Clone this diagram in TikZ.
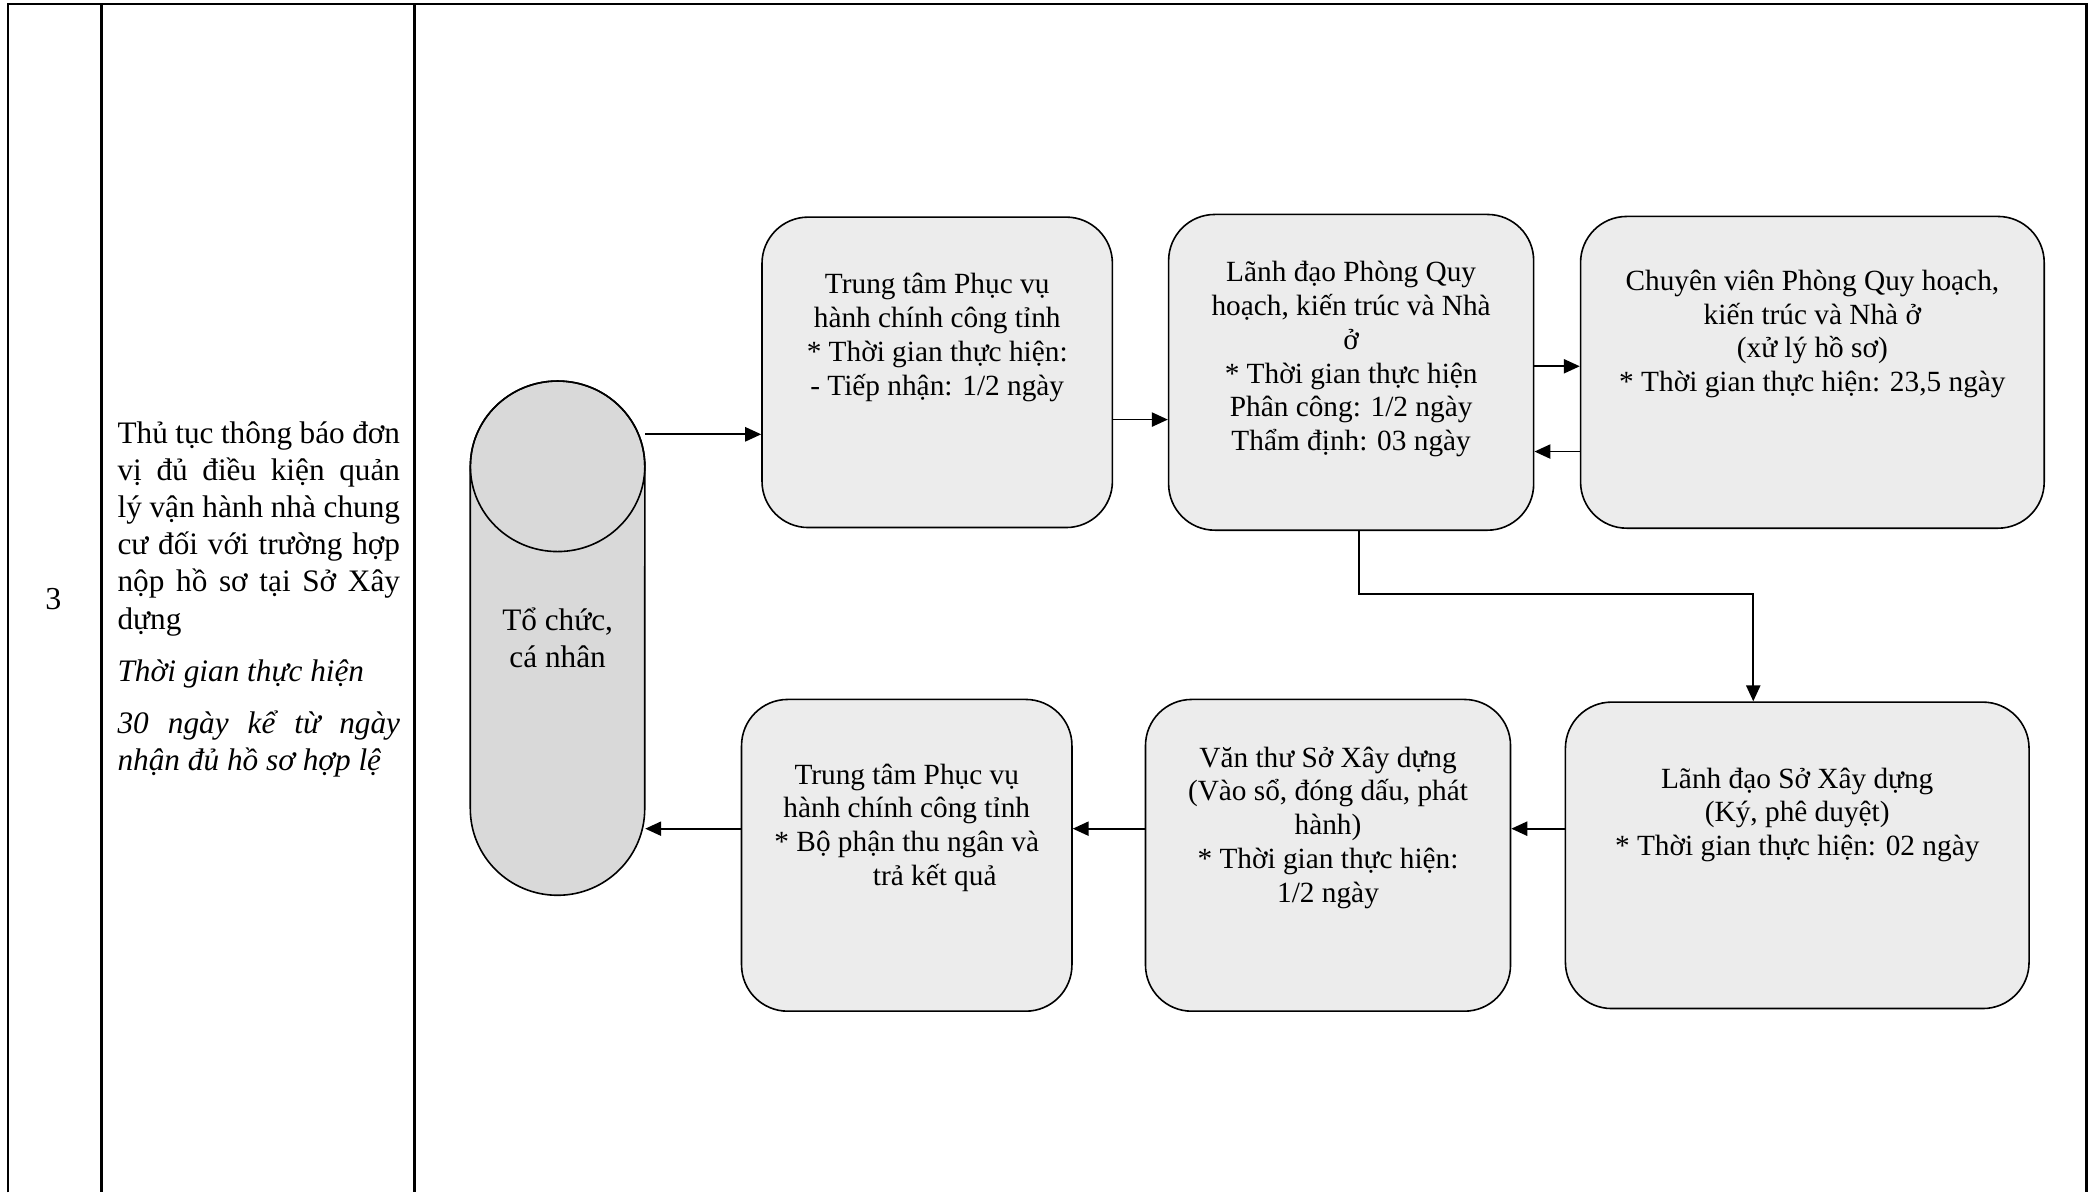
\documentclass[tikz,border=0pt]{standalone}
\usepackage{fontspec}
\setmainfont{Liberation Serif}
\usetikzlibrary{positioning, arrows.meta, shapes.geometric}

\begin{document}
\begin{tikzpicture}[x=1pt, y=1pt, node distance=30pt,
    every node/.style={font=\fontsize{16.5}{19}\selectfont, inner sep=0pt},
    stage/.style={draw, rectangle, rounded corners=26pt, fill=gray!15, line width=0.9pt},
    stagetext/.style={align=center},
    arr/.style={-{Triangle[length=9pt, width=8pt]}, line width=1pt}]
    \useasboundingbox (0,0) rectangle (1176,-671.25);
    % Table
    \draw[line width=1.5pt] (4.5,-671.25) -- (4.5,-2.25) -- (1174.5,-2.25) -- (1174.5,-671.25);
    \draw[line width=1.5pt] (57,-2.25) -- (57,-671.25);
    \draw[line width=1.5pt] (233.25,-2.25) -- (233.25,-671.25);
    \node (stt) at (30,-337.5) {\fontsize{18}{21}\selectfont 3};
    \node[anchor=west, text width=159pt, align=justify, font=\fontsize{17.6}{20.85}\selectfont] (procname) at (66,-337.5) {Thủ tục thông báo đơn\linebreak vị đủ điều kiện quản\linebreak lý vận hành nhà chung\linebreak cư đối với trường hợp\linebreak nộp hồ sơ tại Sở Xây\linebreak dựng\\[8.5pt]
      \textit{Thời gian thực hiện}\\[8.5pt]
      \textit{30 ngày kể từ ngày\linebreak nhận đủ hồ sơ hợp lệ}};
    % Components
    \draw[fill=gray!30, line width=0.9pt] (264.75,-262.5) -- (264.75,-455.25)
      arc[start angle=180, end angle=360, x radius=49.1, y radius=48.75] -- (363,-262.5)
      arc[start angle=0, end angle=180, x radius=49.1, y radius=48] -- cycle;
    \draw[line width=0.9pt] (313.9,-262.5) ellipse [x radius=49.1, y radius=48];
    \node[minimum width=98.25pt, minimum height=289.5pt, align=center, font=\fontsize{17.6}{21}\selectfont] (client) at (313.9,-359.25) {Tổ chức,\\cá nhân};
    \node[stage, minimum width=197.25pt, minimum height=174.75pt] (center) at (527.6,-209.6) {};
    \node[stage, right=30.75pt of center, minimum width=205.5pt, minimum height=177.75pt] (deptlead) {};
    \node[stage, right=25.5pt of deptlead, minimum width=261pt, minimum height=175.5pt] (officer) {};
    \node[stage, minimum width=261pt, minimum height=172.5pt] (director) at (1011.75,-481.5) {};
    \node[stage, left=30pt of director, minimum width=205.5pt, minimum height=175.5pt] (clerk) {};
    \node[stage, left=40.5pt of clerk, minimum width=186pt, minimum height=175.5pt] (result) {};
    % Texts
    \node[stagetext, below=32pt of center.north] (centertext) {Trung tâm Phục vụ\\hành chính công tỉnh\\* Thời gian thực hiện:\\- Tiếp nhận: 1/2 ngày};
    \node[stagetext, below=26.7pt of deptlead.north] (deptleadtext) {Lãnh đạo Phòng Quy\\hoạch, kiến trúc và Nhà\\ở\\* Thời gian thực hiện\\Phân công: 1/2 ngày\\Thẩm định: 03 ngày};
    \node[stagetext, below=30.4pt of officer.north] (officertext) {Chuyên viên Phòng Quy hoạch,\\kiến trúc và Nhà ở\\(xử lý hồ sơ)\\* Thời gian thực hiện: 23,5 ngày};
    \node[stagetext, below=37.2pt of director.north] (directortext) {Lãnh đạo Sở Xây dựng\\(Ký, phê duyệt)\\* Thời gian thực hiện: 02 ngày};
    \node[stagetext, below=26.8pt of clerk.north] (clerktext) {Văn thư Sở Xây dựng\\(Vào sổ, đóng dấu, phát\\hành)\\* Thời gian thực hiện:\\1/2 ngày};
    \node[stagetext, below=36.5pt of result.north] (resulttext) {Trung tâm Phục vụ\\hành chính công tỉnh\\* Bộ phận thu ngân và\\\hspace*{31.5pt}trả kết quả};
    % Arrows
    \coordinate (toin) at ([yshift=-34.9pt]center.west);
    \draw[arr] (client.east |- toin) -- (toin);
    \coordinate (ab) at ([yshift=-26.6pt]center.east);
    \draw[arr] (ab) -- (ab -| deptlead.west);
    \coordinate (bc) at ([yshift=3.4pt]deptlead.east);
    \draw[arr] (bc) -- (bc -| officer.west);
    \coordinate (cb) at ([yshift=-44.6pt]officer.west);
    \draw[arr] (cb) -- (cb -| deptlead.east);
    \coordinate (dn) at ([xshift=-24.75pt]director.north);
    \draw[arr] ([xshift=4.5pt]deptlead.south) -- ++(0,-35.25) -| (dn);
    \coordinate (de) at ([yshift=15pt]director.west);
    \draw[arr] (de) -- (de -| clerk.east);
    \coordinate (ef) at ([yshift=15pt]clerk.west);
    \draw[arr] (ef) -- (ef -| result.east);
    \coordinate (fc) at ([yshift=15pt]result.west);
    \draw[arr] (fc) -- (fc -| client.east);
\end{tikzpicture}
\end{document}
